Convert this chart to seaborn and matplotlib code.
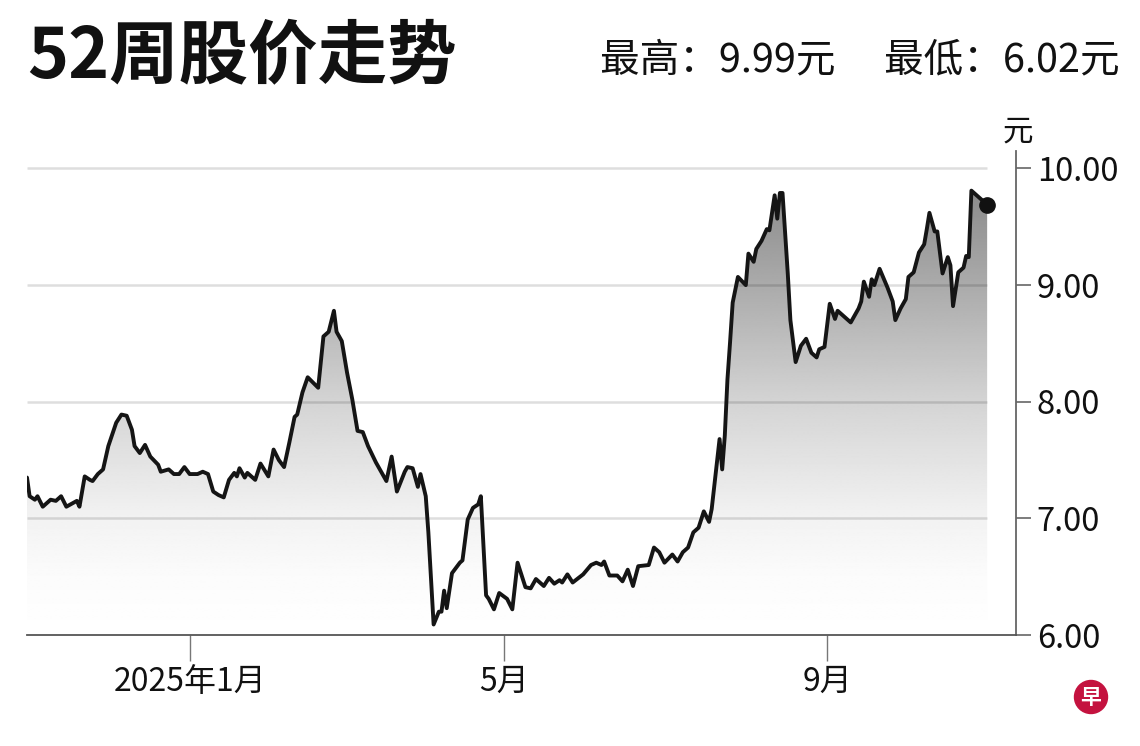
import numpy as np
import pandas as pd
import matplotlib
matplotlib.use("Agg")
import matplotlib.pyplot as plt
import matplotlib.dates as mdates
from matplotlib.patches import Ellipse
import seaborn as sns

# ---------------- data ----------------
dates = [
    "2024-10-31", "2024-11-01", "2024-11-03", "2024-11-04", "2024-11-06", "2024-11-09",
    "2024-11-11", "2024-11-13", "2024-11-15", "2024-11-19", "2024-11-20", "2024-11-22",
    "2024-11-24", "2024-11-25", "2024-11-27", "2024-11-29", "2024-12-01", "2024-12-04",
    "2024-12-06", "2024-12-08", "2024-12-10", "2024-12-11", "2024-12-13", "2024-12-15",
    "2024-12-17", "2024-12-20", "2024-12-21", "2024-12-24", "2024-12-26", "2024-12-28",
    "2024-12-30", "2025-01-01", "2025-01-04", "2025-01-06", "2025-01-08", "2025-01-10",
    "2025-01-12", "2025-01-14", "2025-01-16", "2025-01-18", "2025-01-19", "2025-01-20",
    "2025-01-22", "2025-01-23", "2025-01-26", "2025-01-28", "2025-01-31", "2025-02-02",
    "2025-02-04", "2025-02-06", "2025-02-08", "2025-02-10", "2025-02-11", "2025-02-13",
    "2025-02-15", "2025-02-19", "2025-02-21", "2025-02-23", "2025-02-25", "2025-02-26",
    "2025-02-28", "2025-03-02", "2025-03-04", "2025-03-06", "2025-03-08", "2025-03-10",
    "2025-03-13", "2025-03-17", "2025-03-19", "2025-03-21", "2025-03-24", "2025-03-25",
    "2025-03-27", "2025-03-29", "2025-03-30", "2025-04-01", "2025-04-02", "2025-04-04",
    "2025-04-06", "2025-04-07", "2025-04-08", "2025-04-09", "2025-04-11", "2025-04-12",
    "2025-04-14", "2025-04-15", "2025-04-17", "2025-04-19", "2025-04-21", "2025-04-22",
    "2025-04-24", "2025-04-25", "2025-04-27", "2025-04-29", "2025-05-02", "2025-05-04",
    "2025-05-06", "2025-05-09", "2025-05-11", "2025-05-13", "2025-05-16", "2025-05-18",
    "2025-05-20", "2025-05-22", "2025-05-23", "2025-05-25", "2025-05-27", "2025-05-31",
    "2025-06-03", "2025-06-05", "2025-06-07", "2025-06-08", "2025-06-10", "2025-06-13",
    "2025-06-15", "2025-06-17", "2025-06-19", "2025-06-21", "2025-06-25", "2025-06-27",
    "2025-06-29", "2025-07-01", "2025-07-04", "2025-07-06", "2025-07-08", "2025-07-10",
    "2025-07-12", "2025-07-14", "2025-07-16", "2025-07-18", "2025-07-19", "2025-07-22",
    "2025-07-23", "2025-07-24", "2025-07-25", "2025-07-26", "2025-07-27", "2025-07-29",
    "2025-08-01", "2025-08-02", "2025-08-04", "2025-08-05", "2025-08-07", "2025-08-09",
    "2025-08-10", "2025-08-12", "2025-08-13", "2025-08-14", "2025-08-15", "2025-08-17",
    "2025-08-18", "2025-08-20", "2025-08-22", "2025-08-24", "2025-08-26", "2025-08-28",
    "2025-08-29", "2025-08-31", "2025-09-02", "2025-09-04", "2025-09-05", "2025-09-07",
    "2025-09-10", "2025-09-13", "2025-09-14", "2025-09-15", "2025-09-17", "2025-09-18",
    "2025-09-19", "2025-09-21", "2025-09-24", "2025-09-26", "2025-09-27", "2025-09-29",
    "2025-10-01", "2025-10-02", "2025-10-04", "2025-10-06", "2025-10-08", "2025-10-09",
    "2025-10-10", "2025-10-12", "2025-10-13", "2025-10-15", "2025-10-17", "2025-10-18",
    "2025-10-19", "2025-10-21", "2025-10-23", "2025-10-24", "2025-10-25", "2025-10-26",
    "2025-10-28", "2025-10-30", "2025-11-01",
]
prices = [
    7.35, 7.19, 7.16, 7.19, 7.10, 7.16,
    7.15, 7.19, 7.10, 7.15, 7.10, 7.36,
    7.33, 7.32, 7.38, 7.42, 7.62, 7.82,
    7.89, 7.88, 7.76, 7.62, 7.56, 7.63,
    7.53, 7.46, 7.40, 7.42, 7.38, 7.38,
    7.44, 7.38, 7.38, 7.40, 7.38, 7.23,
    7.20, 7.18, 7.33, 7.39, 7.36, 7.43,
    7.35, 7.39, 7.33, 7.47, 7.36, 7.59,
    7.50, 7.44, 7.65, 7.87, 7.89, 8.08,
    8.21, 8.12, 8.56, 8.60, 8.78, 8.60,
    8.52, 8.25, 8.02, 7.75, 7.74, 7.62,
    7.48, 7.32, 7.53, 7.23, 7.40, 7.44,
    7.43, 7.27, 7.38, 7.19, 6.88, 6.09,
    6.20, 6.20, 6.38, 6.23, 6.53, 6.56,
    6.62, 6.64, 6.99, 7.09, 7.12, 7.19,
    6.34, 6.31, 6.22, 6.36, 6.31, 6.22,
    6.62, 6.41, 6.40, 6.48, 6.42, 6.49,
    6.44, 6.47, 6.45, 6.52, 6.45, 6.52,
    6.60, 6.62, 6.60, 6.63, 6.51, 6.51,
    6.46, 6.56, 6.42, 6.59, 6.60, 6.75,
    6.71, 6.62, 6.69, 6.63, 6.71, 6.75,
    6.88, 6.92, 7.06, 6.97, 7.08, 7.68,
    7.42, 7.71, 8.19, 8.51, 8.85, 9.07,
    9.00, 9.27, 9.20, 9.31, 9.38, 9.48,
    9.47, 9.77, 9.57, 9.79, 9.79, 9.10,
    8.70, 8.34, 8.48, 8.54, 8.42, 8.38,
    8.45, 8.47, 8.84, 8.71, 8.78, 8.74,
    8.68, 8.80, 8.86, 9.03, 8.90, 9.05,
    9.00, 9.14, 8.98, 8.86, 8.70, 8.80,
    8.88, 9.07, 9.11, 9.28, 9.35, 9.48,
    9.62, 9.46, 9.46, 9.10, 9.24, 9.17,
    8.82, 9.11, 9.15, 9.25, 9.24, 9.81,
    9.77, 9.73, 9.69,
]
tick_dates = ["2025-01-01", "2025-05-01", "2025-09-01"]
tick_labels = ["2025年1月", "5月", "9月"]
y_ticks = [6, 7, 8, 9, 10]
y_tick_labels = ["6.00", "7.00", "8.00", "9.00", "10.00"]
title = "52周股价走势"
high_low_text = "最高：9.99元　 最低：6.02元"
unit = "元"

df = pd.DataFrame({"date": pd.to_datetime(dates), "price": prices})

# ---------------- style ----------------
sns.set_theme(style="white")
plt.rcParams["font.family"] = ["Noto Sans CJK SC", "DejaVu Sans"]

W, H = 1140, 746
fig = plt.figure(figsize=(W / 100, H / 100), dpi=100)
fig.patch.set_facecolor("white")
ax = fig.add_axes([27 / W, 111 / H, (1016 - 27) / W, (635 - 151) / H])
ax.set_facecolor("white")

x0 = pd.Timestamp("2024-10-31")
x1 = pd.Timestamp("2025-11-12")
ymin, ymax = 6.0, 10.15
ax.set_xlim(x0, x1)
ax.set_ylim(ymin, ymax)

# gradient fill under the line
poly = ax.fill_between(df["date"], df["price"], ymin, color="none", lw=0, zorder=1)
yy = np.linspace(ymax, ymin, 400)
stops_y = [6.0, 6.5, 7.0, 8.0, 9.0, 10.0, 10.15]
stops_v = [1.0, 0.985, 0.95, 0.83, 0.67, 0.52, 0.50]
vals = np.interp(yy, stops_y, stops_v)
img = np.repeat(vals[:, None], 2, axis=1)
im = ax.imshow(img, cmap="gray", vmin=0, vmax=1, aspect="auto",
               extent=[mdates.date2num(x0), mdates.date2num(x1), ymin, ymax],
               zorder=1, interpolation="bilinear")
path = poly.get_paths()[0]
im.set_clip_path(path, transform=ax.transData)

# gridlines (end at last data point)
ax.hlines([7, 8, 9, 10], xmin=df["date"].iloc[0], xmax=df["date"].iloc[-1],
          colors="black", alpha=0.13, lw=1.8, zorder=1.5)

# line + last point
sns.lineplot(data=df, x="date", y="price", ax=ax, color="#151515", lw=2.8, zorder=3,
             solid_joinstyle="round", solid_capstyle="round")
ax.plot(df["date"].iloc[-1], df["price"].iloc[-1], "o", ms=11, color="#111111", zorder=4)

# spines
for s in ["top", "left"]:
    ax.spines[s].set_visible(False)
ax.spines["bottom"].set_color("#555555")
ax.spines["bottom"].set_linewidth(1.3)
ax.spines["right"].set_color("#666666")
ax.spines["right"].set_linewidth(1.3)

# ticks
ax.yaxis.tick_right()
ax.set_yticks(y_ticks)
ax.set_yticklabels(y_tick_labels)
ax.set_xticks(pd.to_datetime(tick_dates))
ax.set_xticklabels(tick_labels)
ax.tick_params(axis="y", which="major", length=11, width=1.2, color="#666666",
               labelsize=23.5, pad=4, labelcolor="#111111", right=True, left=False)
ax.tick_params(axis="x", which="major", length=19, width=1.0, color="#777777",
               labelsize=23, pad=3, labelcolor="#111111", bottom=True)
ax.set_xlabel("")
ax.set_ylabel("")
ax.grid(False)

# texts
fig.text(27 / W, 1 - 57 / H, title, fontsize=50, fontweight="bold",
         ha="left", va="center", color="#111111")
fig.text(1120 / W, 1 - 60 / H, high_low_text, fontsize=28.5,
         ha="right", va="center", color="#111111")
fig.text(1018 / W, 1 - 132 / H, unit, fontsize=22, ha="center", va="center",
         color="#111111")

# logo
fig.add_artist(Ellipse((1091 / W, 1 - 697 / H), 33 / W, 33 / H,
                       transform=fig.transFigure, color="#c4123f", zorder=5))
fig.text(1091 / W, 1 - 697 / H, "早", fontsize=15, fontweight="bold",
         color="white", ha="center", va="center", zorder=6)

fig.savefig("out.png", dpi=100, facecolor="white")
